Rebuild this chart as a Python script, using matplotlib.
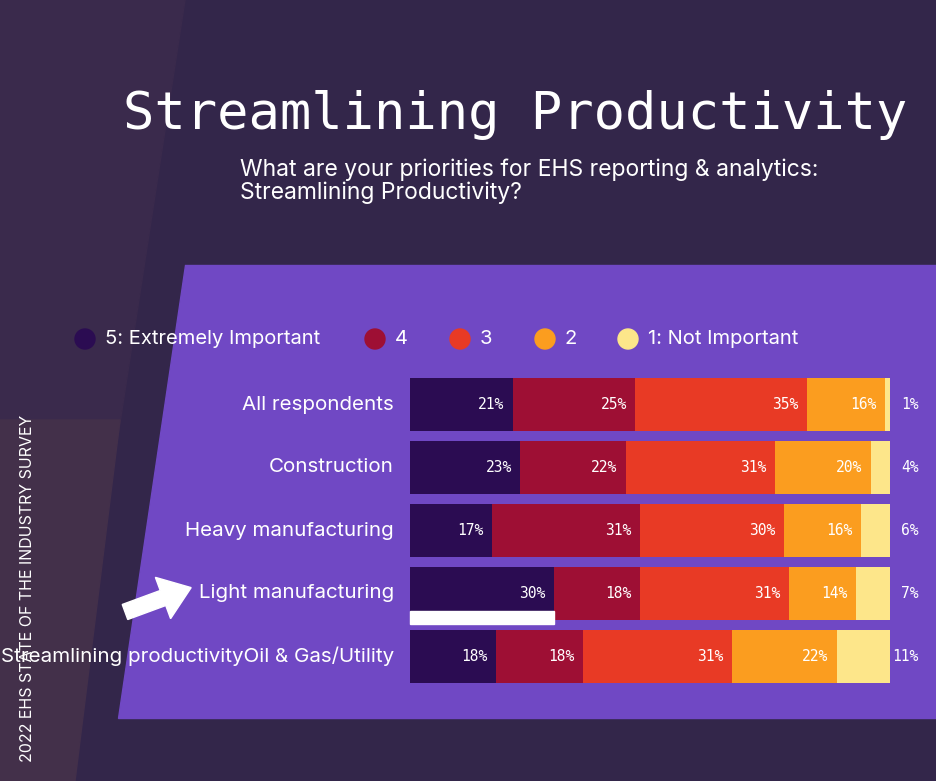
import matplotlib
matplotlib.use("Agg")
import matplotlib.pyplot as plt
from matplotlib.patches import Polygon, Rectangle, Circle, FancyArrow
import numpy as np

categories = ["All respondents", "Construction", "Heavy manufacturing", "Light manufacturing",
              "Streamlining productivityOil & Gas/Utility"]
series_names = ["5: Extremely Important", "4", "3", "2", "1: Not Important"]
values = {
    "5: Extremely Important": [21, 23, 17, 30, 18],
    "4": [25, 22, 31, 18, 18],
    "3": [35, 31, 30, 31, 31],
    "2": [16, 20, 16, 14, 22],
    "1: Not Important": [1, 4, 6, 7, 11],
}
colors = ["#2b0c52", "#9e0f34", "#e83a25", "#fb9d1f", "#fde68a"]

W, H = 937, 781
fig = plt.figure(figsize=(W/100, H/100), dpi=100)
bg = fig.add_axes([0, 0, 1, 1])
bg.set_xlim(0, W); bg.set_ylim(H, 0); bg.axis("off")
bg.add_patch(Rectangle((0, 0), W, H, color="#33264a"))
bg.add_patch(Polygon([(0, 0), (185, 0), (65, H), (0, H)], color="#3a2a4c"))
bg.add_patch(Polygon([(0, 420), (120, 420), (75, H), (0, H)], color="#43304a"))
bg.add_patch(Polygon([(185, 265), (W, 265), (W, 718), (118, 718)], color="#7048c4"))

sans = ["Inter", "DejaVu Sans"]
bg.text(515, 115, "Streamlining Productivity", color="white", fontsize=37.5,
        family="DejaVu Sans Mono", ha="center", va="center")
bg.text(240, 181, "What are your priorities for EHS reporting & analytics:\nStreamlining Productivity?",
        color="white", fontsize=16.5, family=sans, ha="left", va="center", linespacing=1.05)
bg.text(28, 588, "2022 EHS STATE OF THE INDUSTRY SURVEY", color="white", fontsize=11.5,
        family=sans, rotation=90, ha="center", va="center")

leg_x = [85, 375, 460, 545, 628]
for x, name, c in zip(leg_x, series_names, colors):
    bg.add_patch(Circle((x, 339), 10, color=c))
    bg.text(x + 20, 339, name, color="white", fontsize=14.5, family=sans, ha="left", va="center")

for i, cat in enumerate(categories):
    bg.text(394, 404.5 + 63*i, cat, color="white", fontsize=14.8, family=sans, ha="right", va="center")

bg.add_patch(FancyArrow(125, 612, 38, -14, width=16, head_width=44, head_length=30,
                        color="white", length_includes_head=False))

ax = fig.add_axes([410/W, 1 - 688/H, 480/W, 315/H])
ax.set_xlim(0, 100); ax.set_ylim(4.5, -0.5); ax.axis("off")
mat = np.array([values[s] for s in series_names], dtype=float)
frac = mat / mat.sum(axis=0) * 100
left = np.zeros(len(categories))
y = np.arange(len(categories))
for j, s in enumerate(series_names):
    ax.barh(y, frac[j], left=left, height=0.83, color=colors[j], edgecolor="none")
    for i in range(len(categories)):
        if j < 4:
            ax.text(left[i] + frac[j][i] - 1.8, y[i], f"{values[s][i]}%", color="white",
                    fontsize=10.5, family="DejaVu Sans Mono", ha="right", va="center")
        else:
            ax.text(105.9, y[i], f"{values[s][i]}%", color="white", fontsize=10.5,
                    family="DejaVu Sans Mono", ha="right", va="center", clip_on=False)
    left += frac[j]
ax.add_patch(Rectangle((0, 3.28), frac[0][3], 0.2, color="white", clip_on=False))

fig.savefig("out.png", dpi=100)
